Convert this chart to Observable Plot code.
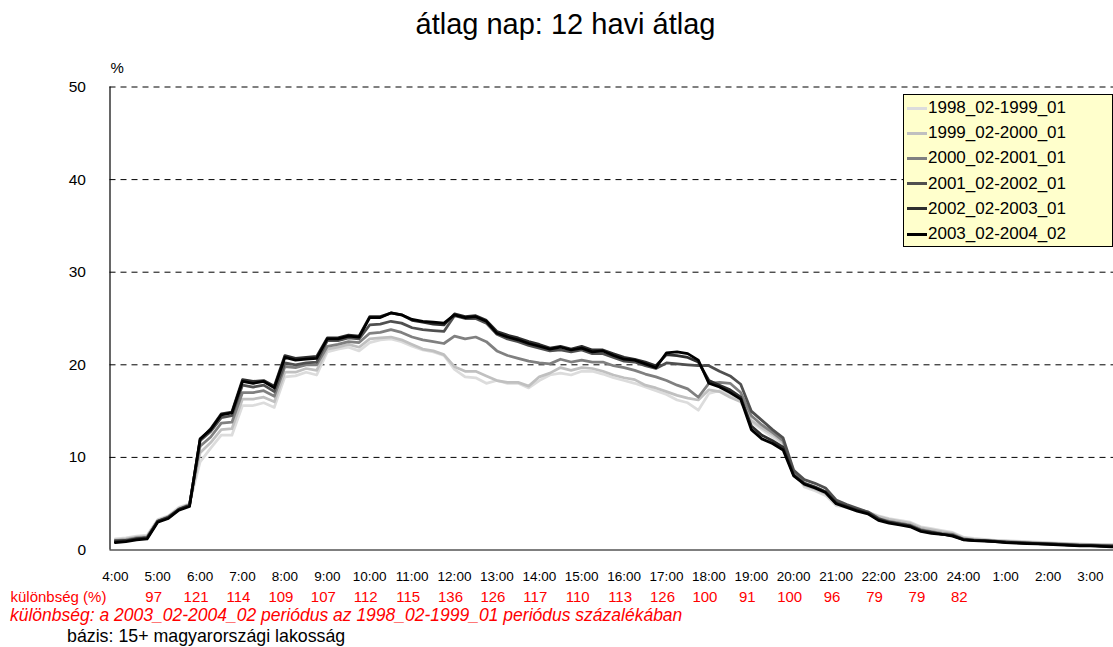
<!DOCTYPE html>
<html>
<head>
<meta charset="utf-8">
<script src="https://cdn.jsdelivr.net/npm/d3@7"></script>
<script src="https://cdn.jsdelivr.net/npm/@observablehq/plot@0.6"></script>
<style>
  html, body { margin: 0; padding: 0; background: #fff; }
  #page { position: relative; width: 1113px; height: 647px; overflow: hidden; font-family: "Liberation Sans", Arial, sans-serif; background: #fff; }
  #title { position: absolute; left: 0; width: 1131px; top: 10px; text-align: center; font-size: 29px; line-height: 1; color: #000; }
  #chart { position: absolute; left: 0; top: 50px; }
  #legend { position: absolute; left: 903px; top: 94px; width: 208px; height: 151px; border: 1px solid #000; background: #FFFFCC; }
  .row { position: absolute; left: 0; height: 20px; display: flex; align-items: center; font-size: 17px; white-space: nowrap; }
  .sw { width: 20px; height: 3px; margin-left: 3px; margin-right: 1px; }
  #note { position: absolute; left: 10px; top: 607px; font-size: 17.5px; font-style: italic; color: #FF0000; line-height: 1; white-space: nowrap; }
  #base { position: absolute; left: 67px; top: 628px; font-size: 17.8px; color: #000; line-height: 1; white-space: nowrap; }
</style>
</head>
<body>
<div id="page">
  <div id="title">átlag nap: 12 havi átlag</div>
  <div id="chart"></div>
  <div id="legend"></div>
  <div id="note">különbség: a 2003_02-2004_02 periódus az 1998_02-1999_01 periódus százalékában</div>
  <div id="base">bázis: 15+ magyarországi lakosság</div>
</div>
<script>
// ---- data ----
const seriesNames = ["1998_02-1999_01", "1999_02-2000_01", "2000_02-2001_01", "2001_02-2002_01", "2002_02-2003_01", "2003_02-2004_02"];
const seriesColors = ["#DCDCDC", "#C0C0C0", "#808080", "#505050", "#2E2E2E", "#000000"];

// 96 quarter-hour values from 4:00 to 3:45
const s1998 = [
 1.2,1.3,1.5,1.6,3.3,3.7,4.6,5.0,
 9.5,11.0,12.4,12.4,15.6,15.6,15.9,15.4,
 18.7,18.8,19.2,18.9,21.4,21.7,21.9,21.5,
 22.4,22.7,22.8,22.5,22.0,21.6,21.4,21.0,
 19.5,18.7,18.6,18.0,18.3,18.0,18.0,17.5,
 18.3,18.9,19.1,18.9,19.3,19.3,19.0,18.6,
 18.3,18.0,17.6,17.2,16.8,16.2,15.9,15.1,
 16.9,17.2,16.8,16.3,13.8,13.0,12.2,11.5,
 8.7,6.8,6.4,5.9,4.8,4.6,4.3,4.1,
 3.7,3.4,3.2,3.0,2.5,2.3,2.1,1.9,
 1.4,1.25,1.15,1.05,1.0,0.95,0.9,0.85,
 0.8,0.75,0.7,0.65,0.6,0.6,0.55,0.55];
const s1999 = [
 1.1,1.2,1.4,1.5,3.2,3.6,4.5,4.9,
 10.5,11.6,13.0,13.1,16.3,16.3,16.5,16.0,
 19.2,19.2,19.6,19.4,21.7,21.9,22.2,21.9,
 22.8,22.9,23.0,22.7,22.2,21.7,21.5,21.1,
 19.8,19.3,19.3,18.8,18.3,18.1,18.1,17.7,
 18.7,19.1,19.7,19.4,19.7,19.6,19.3,18.9,
 18.6,18.4,17.8,17.5,17.1,16.7,16.4,16.2,
 17.3,17.1,16.5,16.0,14.0,13.2,12.5,11.6,
 8.5,7.0,6.6,6.1,5.0,4.7,4.4,4.1,
 3.6,3.3,3.1,2.9,2.4,2.2,2.0,1.8,
 1.3,1.15,1.1,1.0,0.95,0.9,0.85,0.8,
 0.75,0.7,0.65,0.6,0.6,0.55,0.55,0.5];
const s2000 = [
 1.0,1.1,1.3,1.4,3.1,3.6,4.4,4.9,
 11.2,12.2,13.7,13.8,17.0,17.0,17.2,16.6,
 19.8,19.7,20.0,20.0,22.0,22.2,22.5,22.4,
 23.4,23.5,23.8,23.5,23.0,22.7,22.5,22.3,
 23.1,22.8,23.0,22.5,21.5,21.0,20.7,20.4,
 20.2,20.1,20.6,20.3,20.5,20.3,20.3,19.9,
 19.7,19.4,19.0,18.7,18.3,17.8,17.4,16.5,
 18.0,18.1,18.0,17.0,14.5,13.5,12.7,11.8,
 8.3,7.2,6.8,6.3,5.1,4.7,4.4,4.1,
 3.4,3.1,2.9,2.7,2.2,2.0,1.8,1.7,
 1.2,1.1,1.0,0.95,0.9,0.85,0.8,0.75,
 0.7,0.65,0.6,0.55,0.55,0.5,0.5,0.45];
const s2001 = [
 1.0,1.0,1.2,1.3,3.1,3.5,4.4,4.8,
 11.8,12.8,14.3,14.5,17.8,17.6,17.8,17.1,
 20.2,20.0,20.2,20.3,22.6,22.6,22.9,22.8,
 24.3,24.4,24.7,24.5,24.0,23.8,23.7,23.6,
 25.3,25.0,25.0,24.5,23.3,22.8,22.5,22.1,
 21.8,21.5,21.6,21.4,21.6,21.2,21.2,20.8,
 20.4,20.3,19.9,19.6,20.2,20.1,20.0,19.9,
 19.9,19.3,18.8,17.9,15.0,14.0,13.0,12.1,
 8.6,7.6,7.2,6.7,5.4,4.9,4.5,4.1,
 3.4,3.0,2.8,2.6,2.1,1.9,1.7,1.6,
 1.15,1.05,1.0,0.95,0.85,0.8,0.75,0.7,
 0.65,0.6,0.55,0.5,0.5,0.45,0.45,0.4];
const s2002 = [
 0.9,1.0,1.2,1.3,3.1,3.5,4.4,4.8,
 11.9,13.1,14.7,14.9,18.4,18.2,18.3,17.7,
 21.0,20.7,20.8,20.9,22.9,22.9,23.2,23.1,
 25.2,25.2,25.6,25.4,24.8,24.6,24.4,24.3,
 25.5,25.2,25.3,24.8,23.6,23.2,22.9,22.5,
 22.2,21.8,22.0,21.7,22.0,21.6,21.6,21.2,
 20.8,20.6,20.3,19.9,21.1,21.0,20.8,20.3,
 18.3,17.8,17.3,16.5,13.4,12.4,11.8,11.1,
 8.1,7.2,6.8,6.3,5.1,4.7,4.3,4.0,
 3.3,3.0,2.8,2.6,2.1,1.9,1.7,1.55,
 1.15,1.05,1.0,0.9,0.85,0.8,0.75,0.7,
 0.65,0.6,0.55,0.5,0.5,0.45,0.4,0.4];
const s2003 = [
 0.8,0.9,1.1,1.2,3.0,3.4,4.3,4.7,
 12.0,13.0,14.6,14.8,18.2,18.0,18.2,17.5,
 20.8,20.5,20.6,20.7,22.8,22.8,23.1,23.0,
 25.1,25.1,25.6,25.4,24.9,24.7,24.6,24.5,
 25.4,25.1,25.2,24.7,23.4,23.0,22.7,22.3,
 22.0,21.7,21.9,21.6,21.8,21.4,21.5,21.0,
 20.6,20.5,20.1,19.7,21.3,21.4,21.2,20.5,
 18.0,17.6,17.0,16.3,13.0,12.0,11.5,10.8,
 8.0,7.1,6.7,6.2,5.0,4.6,4.2,3.9,
 3.2,2.9,2.7,2.5,2.0,1.8,1.7,1.5,
 1.1,1.0,0.95,0.9,0.8,0.75,0.7,0.65,
 0.6,0.55,0.5,0.45,0.45,0.4,0.35,0.35];

const tickLabels = ["4:00","5:00","6:00","7:00","8:00","9:00","10:00","11:00","12:00","13:00","14:00","15:00","16:00","17:00","18:00","19:00","20:00","21:00","22:00","23:00","24:00","1:00","2:00","3:00"];
const diffHours = ["5:00","6:00","7:00","8:00","9:00","10:00","11:00","12:00","13:00","14:00","15:00","16:00","17:00","18:00","19:00","20:00","21:00","22:00","23:00","24:00"];
const diffValues = [97,121,114,109,107,112,115,136,126,117,110,113,126,100,91,100,96,79,79,82];
const yTicks = [0,10,20,30,40,50];

// ---- build table ----
const allSeries = [s1998, s1999, s2000, s2001, s2002, s2003];
const rows = [];
allSeries.forEach((vals, k) => vals.forEach((v, i) => rows.push({s: seriesNames[k], i, v})));
const diffRows = diffValues.map((v, k) => ({i: tickLabels.indexOf(diffHours[k]) * 4, v}));
const tickIdx = tickLabels.map((_, k) => k * 4);

const font = "'Liberation Sans', Arial, sans-serif";
const chart = Plot.plot({
  width: 1113,
  height: 556,
  marginLeft: 109.5,
  marginRight: 0,
  marginTop: 36.5,
  marginBottom: 56.5,
  style: {fontFamily: font, background: "white", color: "black", overflow: "visible"},
  x: {domain: [-0.5, 94.17]},
  y: {domain: [0, 50]},
  color: {domain: seriesNames, range: seriesColors},
  marks: [
    Plot.ruleY(yTicks.slice(1), {stroke: "black", strokeWidth: 1, strokeDasharray: "6,5"}),
    Plot.lineY(rows, {x: "i", y: "v", z: "s", stroke: "s", strokeWidth: 2.75, strokeLinejoin: "round", clip: true}),
    Plot.ruleX([-0.5], {stroke: "black", strokeWidth: 1.2}),
    Plot.ruleY([0], {stroke: "black", strokeWidth: 1.2}),
    Plot.axisY({ticks: yTicks, tickSize: 0, tickPadding: 24, fontSize: 15.5, tickFormat: d => String(d), label: null}),
    Plot.axisX({ticks: tickIdx, tickSize: 0, tickPadding: 21, fontSize: 13.5, tickFormat: d => tickLabels[d / 4], label: null}),
    Plot.text(diffRows, {x: "i", text: d => String(d.v), frameAnchor: "bottom", dy: 47.5, dx: -4, lineAnchor: "middle", fill: "#FF0000", fontSize: 15}),
    Plot.text(["különbség (%)"], {frameAnchor: "bottom-left", dx: -99.5, dy: 47.5, textAnchor: "start", lineAnchor: "middle", fill: "#FF0000", fontSize: 15}),
    Plot.text(["%"], {frameAnchor: "top-left", dx: 0.5, dy: -18.5, textAnchor: "start", lineAnchor: "middle", fill: "black", fontSize: 15})
  ]
});
document.getElementById("chart").appendChild(chart);

// legend
const leg = document.getElementById("legend");
seriesNames.forEach((n, k) => {
  const r = document.createElement("div");
  r.className = "row";
  r.style.top = (3 + k * 25.2) + "px";
  const sw = document.createElement("div");
  sw.className = "sw";
  sw.style.background = seriesColors[k];
  const t = document.createElement("span");
  t.textContent = n;
  r.appendChild(sw); r.appendChild(t);
  leg.appendChild(r);
});
</script>
</body>
</html>
